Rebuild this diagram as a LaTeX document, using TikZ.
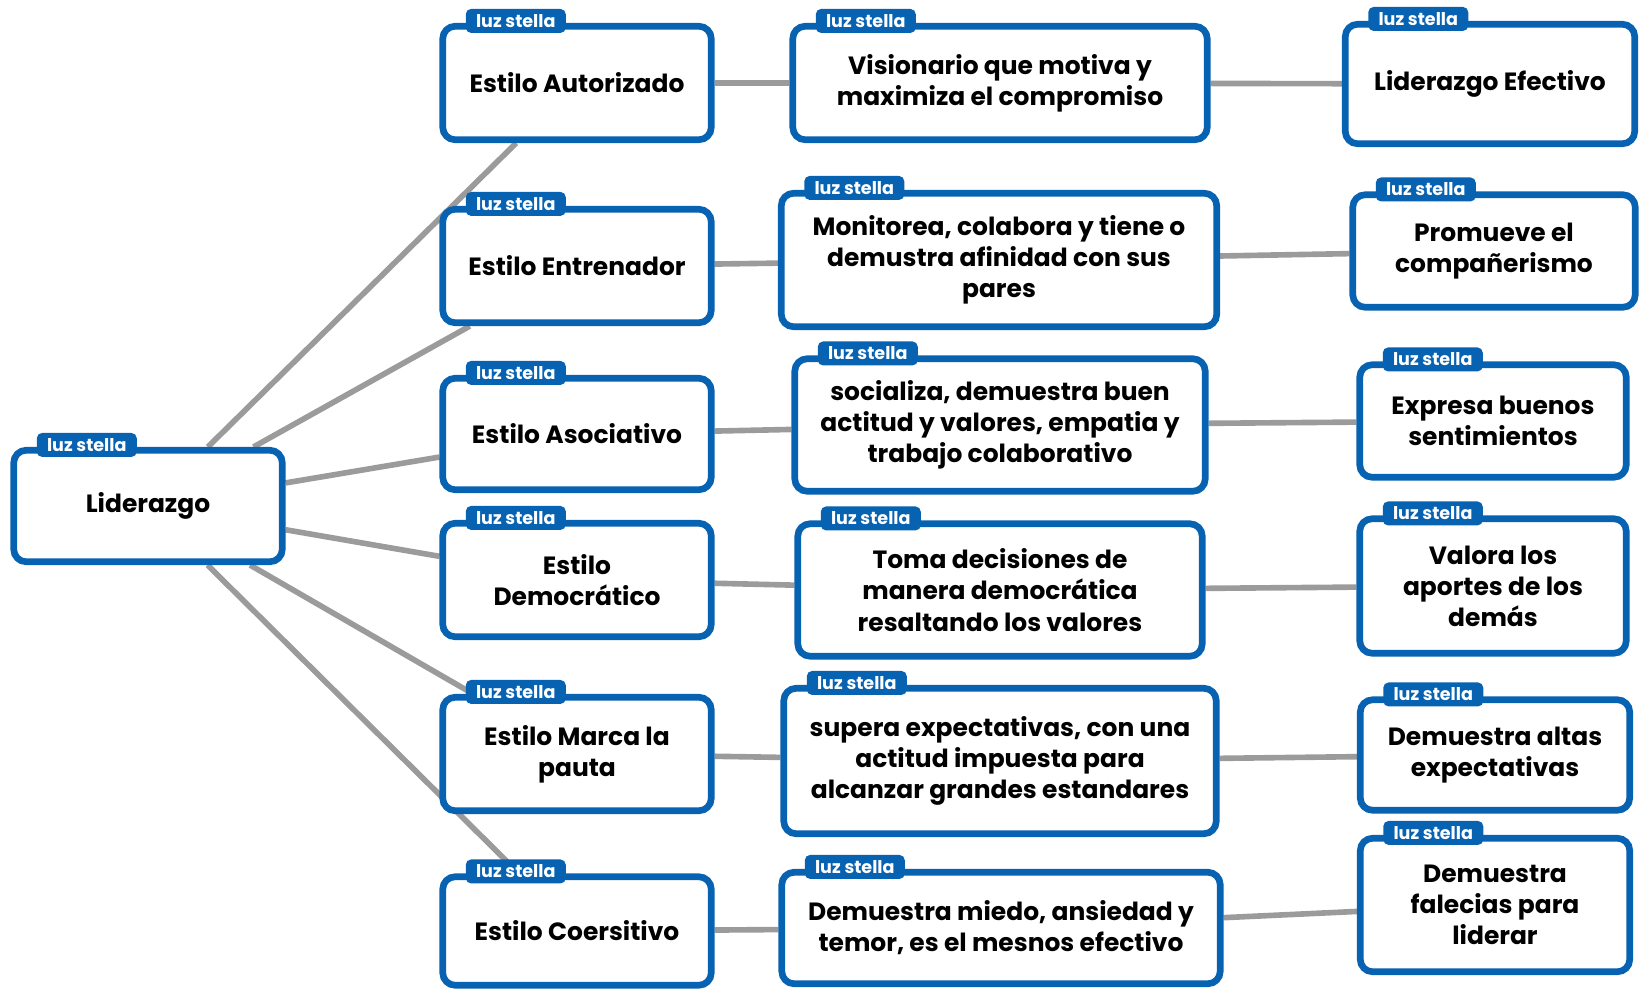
\documentclass[tikz,border=0pt]{standalone}
\usepackage{fontspec}
\setmainfont{Poppins}
\usepackage{tikz}
\usetikzlibrary{positioning,backgrounds}
\definecolor{boxblue}{RGB}{8,98,178}
\definecolor{linkgray}{RGB}{155,155,155}

\begin{document}
\begin{tikzpicture}[
    x=0.02cm, y=-0.02cm,
    % caja con borde azul
    mbox/.style={
      draw=boxblue, line width=3.8pt, rounded corners=7pt,
      fill=white, align=center, inner sep=0pt,
      font=\bfseries\fontsize{14.2}{17.7}\selectfont
    },
    % etiqueta "luz stella"
    tagbox/.style={
      fill=boxblue, text=white, rounded corners=3pt,
      minimum width=2cm, minimum height=0.48cm, inner sep=0pt,
      font=\bfseries\fontsize{10}{11}\selectfont, anchor=west
    },
    % conector gris
    link/.style={draw=linkgray, line width=3.2pt}
  ]
  \useasboundingbox (0,0) rectangle (1641,992);

  % --- raiz ---
  \node[mbox, minimum width=5.37cm, minimum height=2.23cm] (lid) at (148,506) {Liderazgo};

  % --- estilos ---
  \node[mbox, minimum width=5.37cm, minimum height=2.27cm] (aut) at (577,83) {Estilo Autorizado};
  \node[mbox, minimum width=5.37cm, minimum height=2.27cm] (ent) at (577,266) {Estilo Entrenador};
  \node[mbox, minimum width=5.37cm, minimum height=2.23cm] (aso) at (577,434) {Estilo Asociativo};
  \node[mbox, minimum width=5.37cm, minimum height=2.27cm] (dem) at (577,580) {Estilo\\Democrático};
  \node[mbox, minimum width=5.37cm, minimum height=2.27cm] (mar) at (577,754) {Estilo Marca la\\pauta};
  \node[mbox, minimum width=5.37cm, minimum height=2.17cm] (coe) at (577,931) {Estilo Coersitivo};

  % --- descripciones ---
  \node[mbox, minimum width=8.29cm, minimum height=2.27cm] (vis) at (1000,83) {Visionario que motiva y\\maximiza el compromiso};
  \node[mbox, minimum width=8.71cm, minimum height=2.67cm] (mon) at (999,260) {Monitorea, colabora y tiene o\\demustra afinidad con sus\\pares};
  \node[mbox, minimum width=8.21cm, minimum height=2.65cm] (soc) at (1000,425) {socializa, demuestra buen\\actitud y valores, empatia y\\trabajo colaborativo};
  \node[mbox, minimum width=8.09cm, minimum height=2.65cm] (tom) at (1000,590) {Toma decisiones de\\manera democrática\\resaltando los valores};
  \node[mbox, minimum width=8.65cm, minimum height=2.91cm] (sup) at (1000,761) {supera expectativas, con una\\actitud impuesta para\\alcanzar grandes estandares};
  \node[mbox, minimum width=8.77cm, minimum height=2.23cm] (mie) at (1001,928) {Demuestra miedo, ansiedad y\\temor, es el mesnos efectivo};

  % --- resultados ---
  \node[mbox, minimum width=5.79cm, minimum height=2.39cm] (efe) at (1490,84) {Liderazgo Efectivo};
  \node[mbox, minimum width=5.65cm, minimum height=2.25cm] (pro) at (1494,251) {Promueve el\\compañerismo};
  \node[mbox, minimum width=5.33cm, minimum height=2.25cm] (exp) at (1493,421) {Expresa buenos\\sentimientos};
  \node[mbox, minimum width=5.33cm, minimum height=2.69cm] (val) at (1493,586) {Valora los\\aportes de los\\demás};
  \node[mbox, minimum width=5.39cm, minimum height=2.21cm] (alt) at (1495,755) {Demuestra altas\\expectativas};
  \node[mbox, minimum width=5.39cm, minimum height=2.67cm] (fal) at (1495,905) {Demuestra\\falecias para\\liderar};

  % etiquetas
  \foreach \n in {lid,aut,ent,aso,dem,mar,coe,vis,mon,soc,tom,sup,mie,efe,pro,exp,val,alt,fal}
    \node[tagbox] (tag-\n) at ([xshift=0.52cm,yshift=0.04cm]\n.north west) {luz stella};

  % conectores
  \begin{scope}[on background layer]
    \foreach \s/\d/\r in {aut/vis/efe,ent/mon/pro,aso/soc/exp,dem/tom/val,mar/sup/alt,coe/mie/fal} {
      \draw[link] (lid) -- (\s);
      \draw[link] (\s) -- (\d);
      \draw[link] (\d) -- (\r);
    }
  \end{scope}
\end{tikzpicture}
\end{document}
